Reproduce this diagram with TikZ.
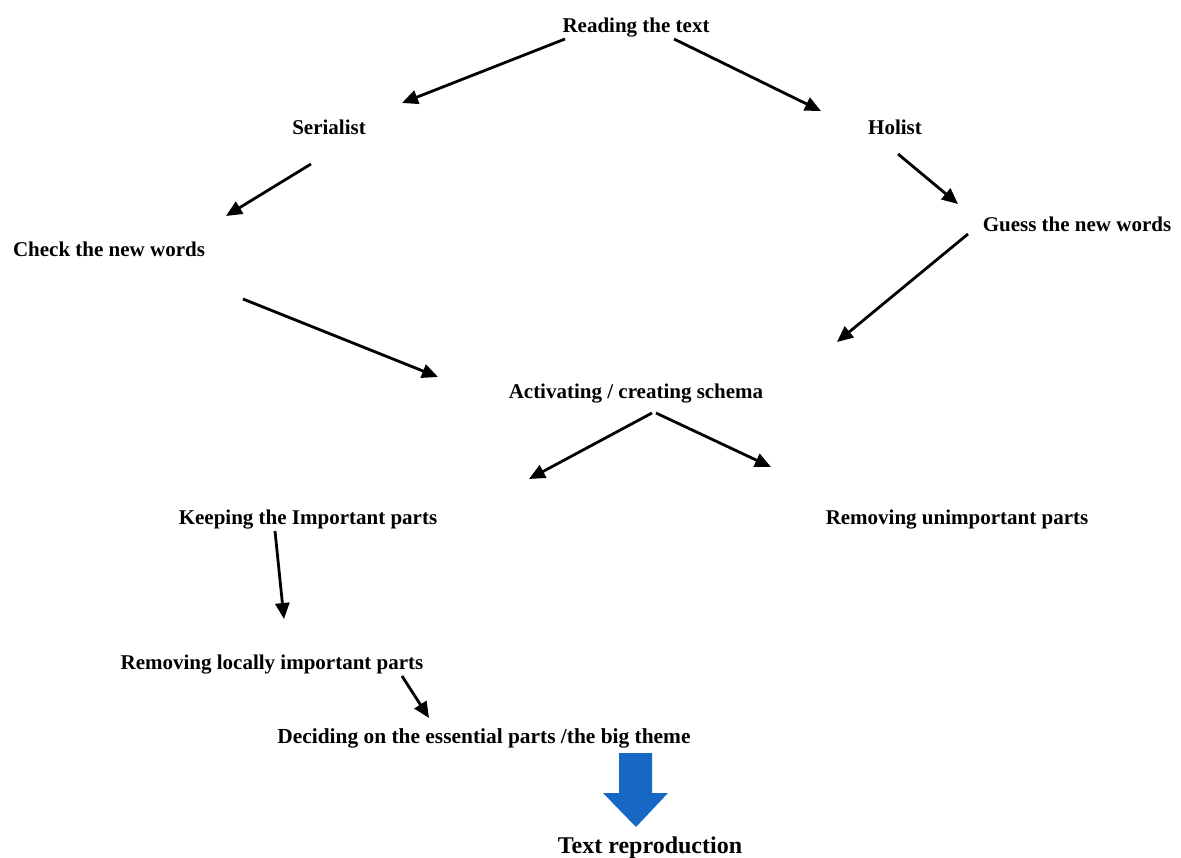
\documentclass[tikz,border=0pt]{standalone}
\usepackage{fontspec}
\setmainfont{Liberation Serif}
\usetikzlibrary{arrows.meta}
\definecolor{arrowblue}{RGB}{22,104,196}
\begin{document}
\begin{tikzpicture}[x=1pt,y=-1pt,
  lbl/.style={inner sep=0pt,anchor=center,font=\fontsize{21}{25}\selectfont\bfseries},
  big/.style={inner sep=0pt,anchor=center,font=\fontsize{24}{28}\selectfont\bfseries},
  conn/.style={line width=2.8pt,-{Triangle[length=16pt,width=14pt]}}]
\useasboundingbox (0,0) rectangle (1181,858);
\node[lbl] (read) at (636,28) {Reading the text};
\node[lbl] (ser) at (329,127) {Serialist};
\node[lbl] (hol) at (895,127) {Holist};
\node[lbl] (check) at (109,249) {Check the new words};
\node[lbl] (guess) at (1077,224) {Guess the new words};
\node[lbl] (act) at (636,394) {Activating / creating schema};
\node[lbl] (keep) at (308,520) {Keeping the Important parts};
\node[lbl] (remu) at (957,520) {Removing unimportant parts};
\node[lbl] (reml) at (272,665) {Removing locally important parts};
\node[lbl,font=\fontsize{21.4}{25}\selectfont\bfseries] (dec) at (484,738) {Deciding on the essential parts /the big theme};
\node[big] (rep) at (650,848) {Text reproduction};
% connector end points
\coordinate (a1s) at (565,39);  \coordinate (a1e) at (402,103);
\coordinate (a2s) at (674,39);  \coordinate (a2e) at (821,111);
\coordinate (a3s) at (311,164); \coordinate (a3e) at (226,216);
\coordinate (a4s) at (898,154); \coordinate (a4e) at (958,204);
\coordinate (a5s) at (968,234); \coordinate (a5e) at (837,342);
\coordinate (a6s) at (243,299); \coordinate (a6e) at (438,377);
\coordinate (a7s) at (652,413); \coordinate (a7e) at (529,479);
\coordinate (a8s) at (656,413); \coordinate (a8e) at (771,467);
\coordinate (a9s) at (275,531); \coordinate (a9e) at (284,619);
\coordinate (a10s) at (402,676); \coordinate (a10e) at (429,718);
\draw[conn] (a1s) -- (a1e);
\draw[conn] (a2s) -- (a2e);
\draw[conn] (a3s) -- (a3e);
\draw[conn] (a4s) -- (a4e);
\draw[conn] (a5s) -- (a5e);
\draw[conn] (a6s) -- (a6e);
\draw[conn] (a7s) -- (a7e);
\draw[conn] (a8s) -- (a8e);
\draw[conn] (a9s) -- (a9e);
\draw[conn] (a10s) -- (a10e);
% blue block arrow
\fill[arrowblue] (619,753) -- (652,753) -- (652,793) -- (668,793) -- (636,827) -- (603,793) -- (619,793) -- cycle;
\end{tikzpicture}
\end{document}
